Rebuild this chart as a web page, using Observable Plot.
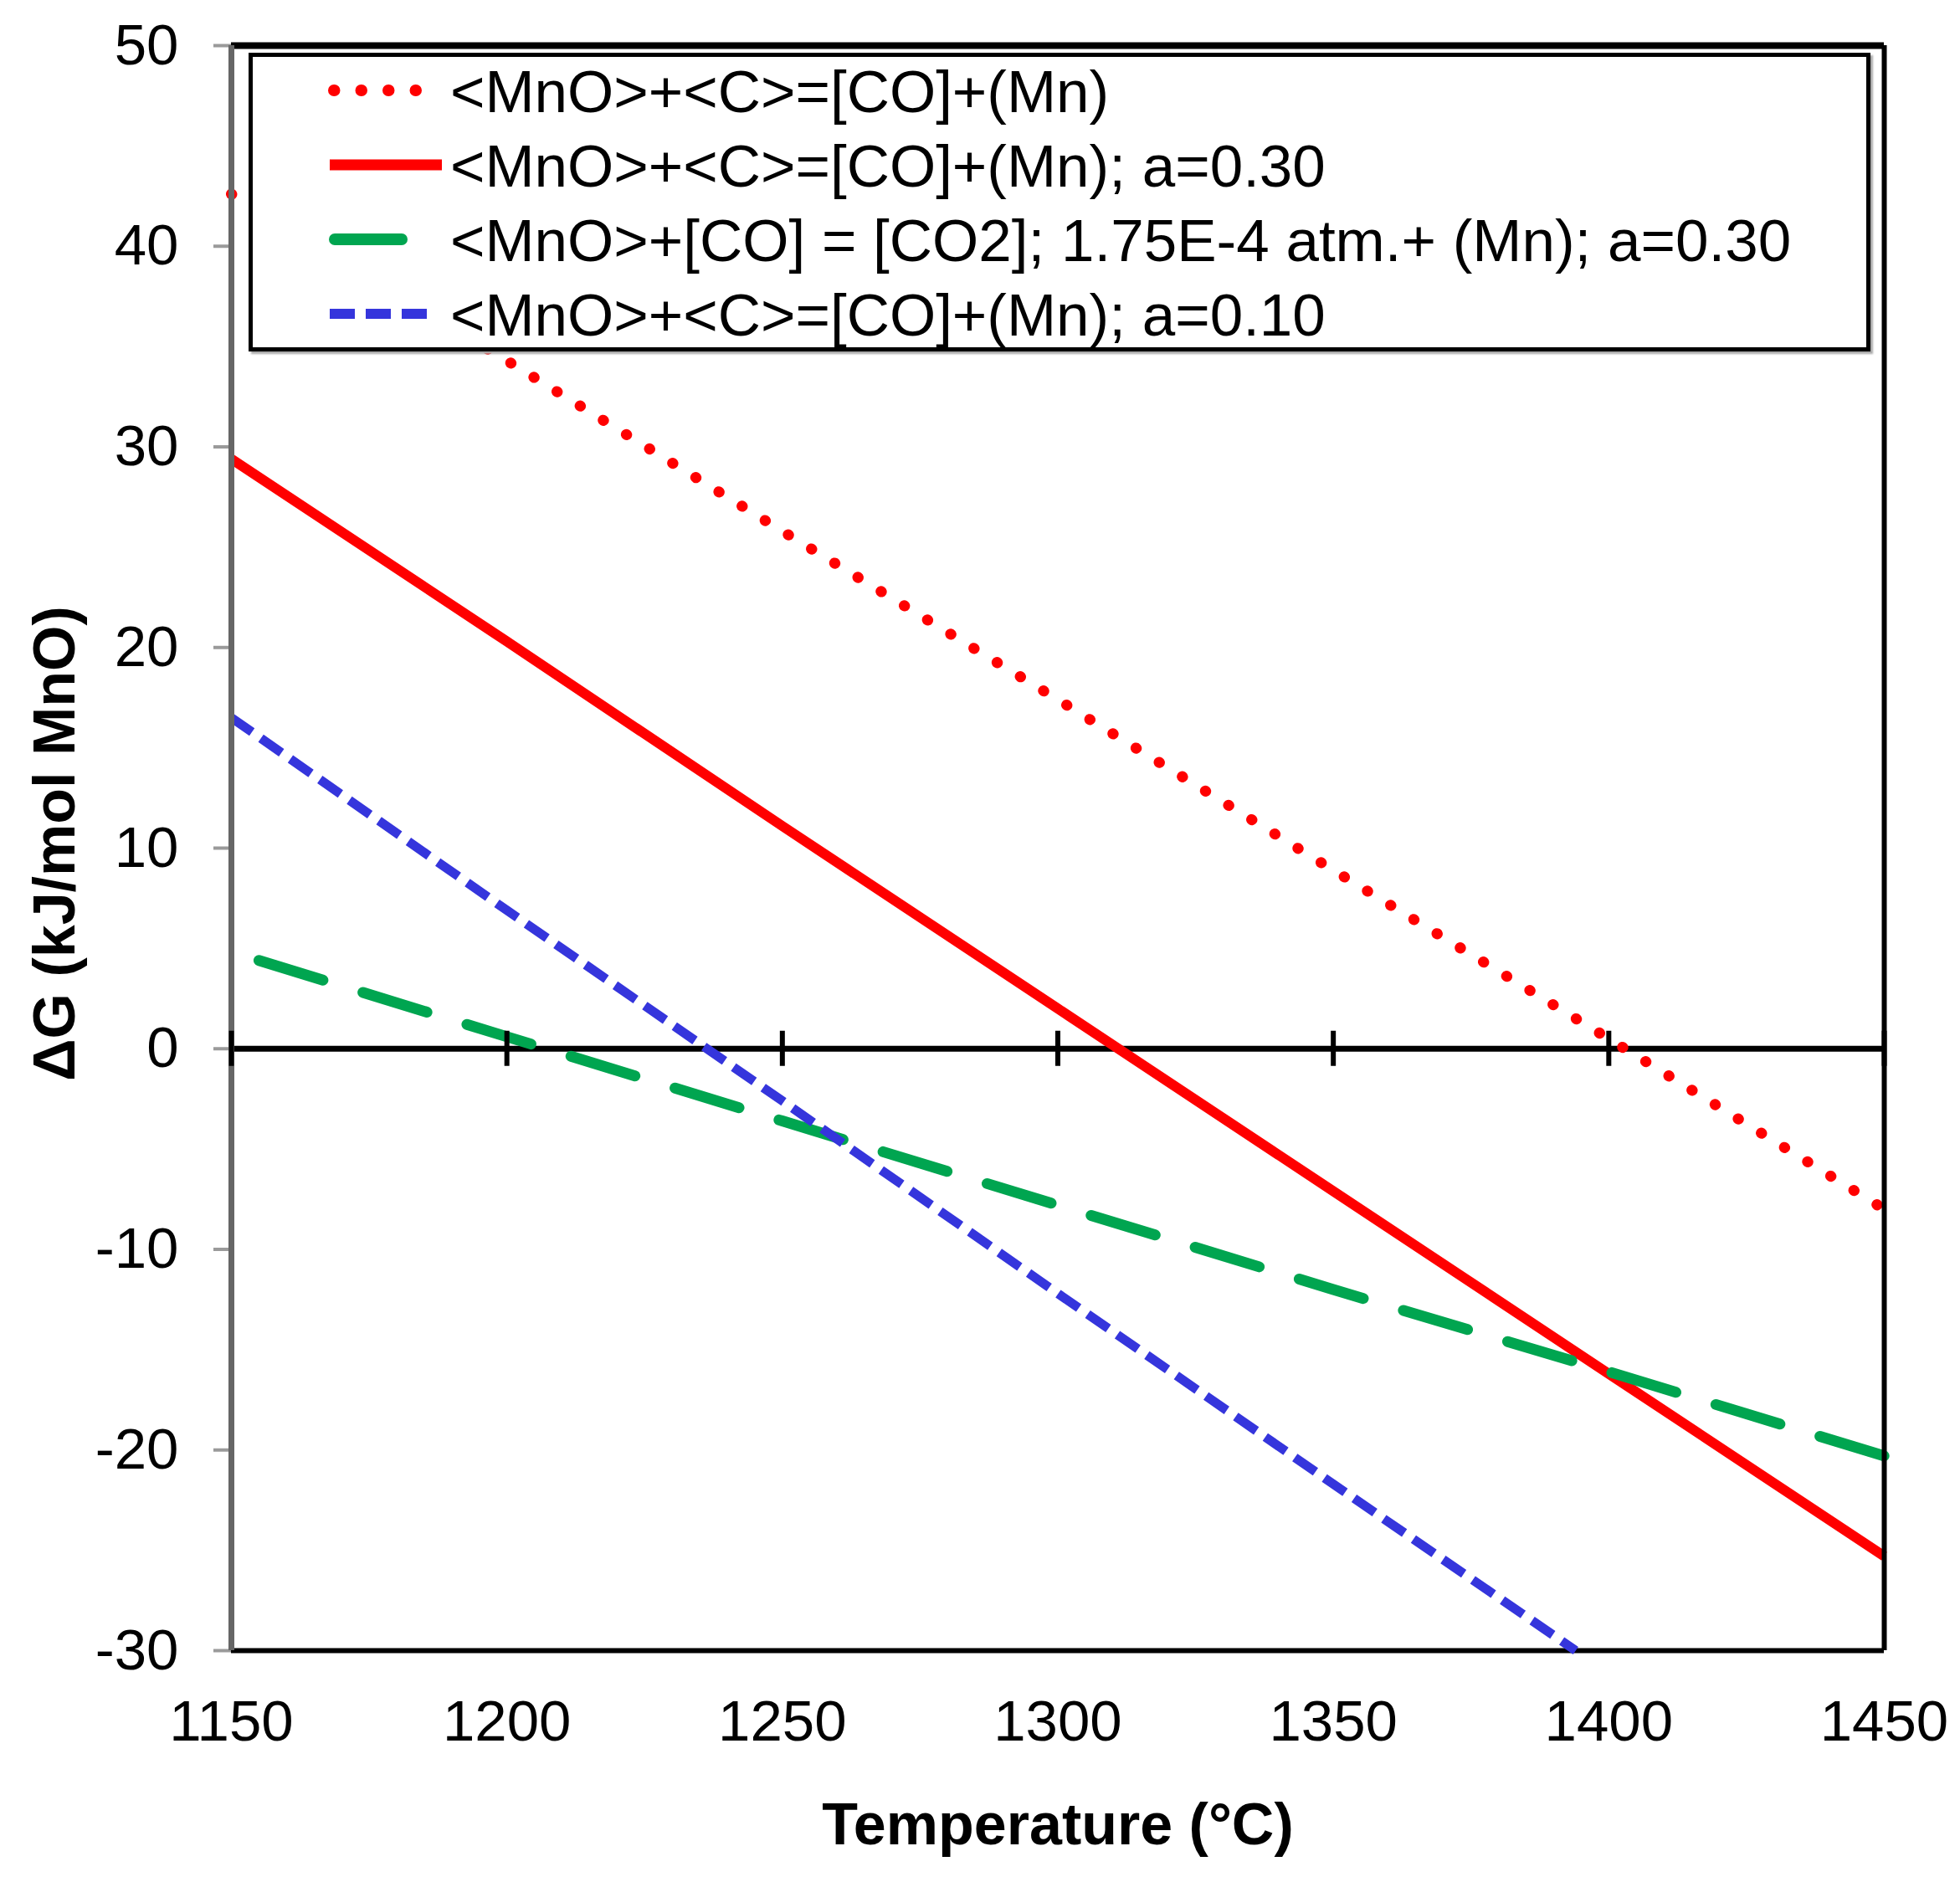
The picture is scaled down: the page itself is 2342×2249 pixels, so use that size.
<!DOCTYPE html>
<html>
<head>
<meta charset="utf-8">
<script src="https://cdn.jsdelivr.net/npm/d3@7"></script>
<script src="https://cdn.jsdelivr.net/npm/@observablehq/plot@0.6"></script>
<style>
  html, body { margin: 0; padding: 0; background: #fff; }
  #wrap { position: relative; width: 2342px; height: 2249px; font-family: "Liberation Sans", Arial, sans-serif; }
  #legend { position: absolute; left: 297px; top: 63px; width: 1938px; height: 357px; box-sizing: border-box;
            border: 5px solid #000; background: #fff; box-shadow: 3px 3px 2px #aaa; }
  #legend svg { position: absolute; left: -5px; top: -5px; }
  #ylab { position: absolute; left: 0; top: 0; pointer-events: none; }
</style>
</head>
<body>
<div id="wrap"></div>
<script>
// ---- data ----
const xDomain = [1150, 1450];
const yDomain = [-30, 50];
const xTicks = [1150, 1200, 1250, 1300, 1350, 1400, 1450];
const yTicks = [-30, -20, -10, 0, 10, 20, 30, 40, 50];

const tempsAll = [1150, 1200, 1250, 1300, 1350, 1400, 1450];
const dgMnOC = [42.6, 34.3, 25.8, 17.4, 8.9, 0.5, -8.0];
const dgMnOC_a030 = [29.4, 20.3, 11.1, 2.0, -7.1, -16.2, -25.3];
const tempsCO2 = [1155, 1200, 1250, 1300, 1350, 1400, 1450];
const dgCO2_a030 = [4.4, 0.6, -3.6, -7.8, -12.0, -16.1, -20.3];
const tempsA010 = [1150, 1200, 1250, 1300, 1350, 1394];
const dgMnOC_a010 = [16.5, 6.9, -2.6, -12.2, -21.7, -30.0];

const seriesLabels = [
  "<MnO>+<C>=[CO]+(Mn)",
  "<MnO>+<C>=[CO]+(Mn); a=0.30",
  "<MnO>+[CO] = [CO2]; 1.75E-4 atm.+ (Mn); a=0.30",
  "<MnO>+<C>=[CO]+(Mn); a=0.10"
];
const xLabel = "Temperature (°C)";
const yLabel = "ΔG (kJ/mol MnO)";

// ---- styles ----
const seriesStyles = [
  {stroke: "#ff0000", strokeWidth: 13, strokeDasharray: "0.5 32", strokeLinecap: "round"},
  {stroke: "#ff0000", strokeWidth: 12, strokeDasharray: null, strokeLinecap: "butt"},
  {stroke: "#00a550", strokeWidth: 13, strokeDasharray: "80 50", strokeLinecap: "round"},
  {stroke: "#3535dc", strokeWidth: 11, strokeDasharray: "30 13", strokeLinecap: "butt"}
];

const toRows = (xs, ys) => xs.map((t, i) => ({t, g: ys[i]}));
const seriesData = [
  toRows(tempsAll, dgMnOC),
  toRows(tempsAll, dgMnOC_a030),
  toRows(tempsCO2, dgCO2_a030),
  toRows(tempsA010, dgMnOC_a010)
];

const lineMarks = seriesData.map((rows, i) => {
  const s = seriesStyles[i];
  const o = {x: "t", y: "g", stroke: s.stroke, strokeWidth: s.strokeWidth, strokeLinecap: s.strokeLinecap};
  if (s.strokeDasharray) o.strokeDasharray = s.strokeDasharray;
  return Plot.line(rows, o);
});

const chart = Plot.plot({
  width: 2342, height: 2249,
  marginLeft: 276, marginRight: 91, marginTop: 54, marginBottom: 277,
  x: {domain: xDomain},
  y: {domain: yDomain},
  style: {fontFamily: "'Liberation Sans', Arial, sans-serif", color: "#000", background: "#fff", overflow: "visible"},
  marks: [
    Plot.axisY(yTicks, {tickSize: 21, tickPadding: 42, fontSize: 69, stroke: "#9a9a9a", strokeWidth: 4, label: null, tickFormat: d => String(d)}),
    Plot.axisX(xTicks, {tickSize: 0, tickPadding: 58, fontSize: 69, label: null, tickFormat: d => String(d)}),
    Plot.ruleY([yDomain[1]], {stroke: "#000", strokeWidth: 8}),
    Plot.ruleY([yDomain[0]], {stroke: "#000", strokeWidth: 6}),
    Plot.ruleY([0], {stroke: "#000", strokeWidth: 7}),
    ...lineMarks,
    Plot.ruleX([xDomain[0]], {stroke: "#666", strokeWidth: 7}),
    Plot.ruleX([xDomain[1]], {stroke: "#000", strokeWidth: 6}),
    Plot.ruleX(xTicks, {x: d => d, y1: 0, y2: 0, insetTop: -21, insetBottom: -21, stroke: "#000", strokeWidth: 6}),
    Plot.text([xLabel], {text: d => d, frameAnchor: "bottom", dy: 231, fontSize: 70, fontWeight: "bold"})
  ]
});

const wrap = document.getElementById("wrap");
wrap.appendChild(chart);

// ---- y axis title ----
const ysvg = d3.select(wrap).append("svg").attr("id", "ylab").attr("width", 200).attr("height", 2249);
ysvg.append("text")
  .attr("transform", "translate(89,1008) rotate(-90)")
  .attr("text-anchor", "middle")
  .attr("font-family", "'Liberation Sans', Arial, sans-serif")
  .attr("font-size", 70).attr("font-weight", "bold").attr("fill", "#000")
  .text(yLabel);

// ---- legend (overlay inside the plot frame) ----
const legend = document.createElement("div");
legend.id = "legend";
wrap.appendChild(legend);
const swatchSpans = [[97, 225], [92, 226], [98, 184], [92, 213]];
const rowY = [40, 129, 218, 307];
const svg = d3.select(legend).append("svg").attr("width", 1938).attr("height", 357);
seriesLabels.forEach((label, i) => {
  const s = seriesStyles[i];
  const ln = svg.append("line")
    .attr("x1", swatchSpans[i][0] + 5).attr("x2", swatchSpans[i][1] + 5)
    .attr("y1", rowY[i] + 5).attr("y2", rowY[i] + 5)
    .attr("stroke", s.stroke).attr("stroke-width", s.strokeWidth + 1)
    .attr("stroke-linecap", s.strokeLinecap);
  if (s.strokeDasharray) ln.attr("stroke-dasharray", s.strokeDasharray);
  svg.append("text")
    .attr("x", 241).attr("y", rowY[i] + 5).attr("dy", "0.36em")
    .attr("font-family", "'Liberation Sans', Arial, sans-serif")
    .attr("font-size", 71).attr("fill", "#000")
    .text(label);
});
</script>
</body>
</html>
